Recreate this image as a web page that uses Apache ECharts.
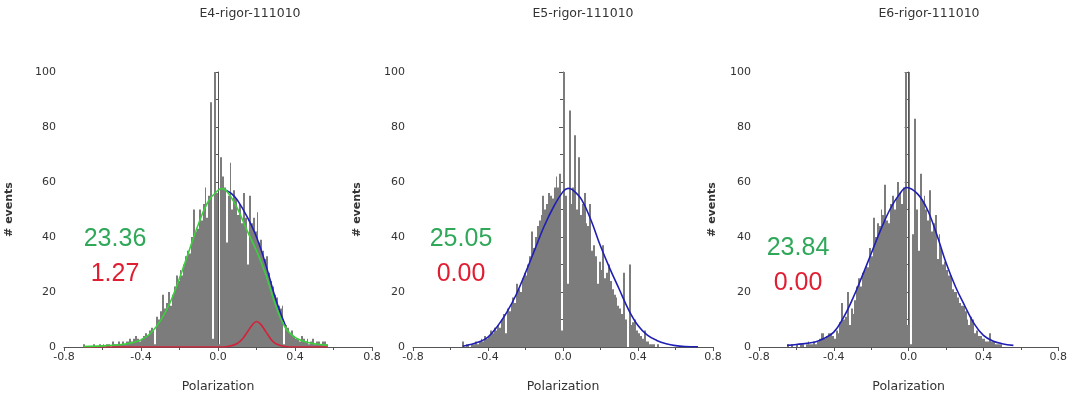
<!DOCTYPE html>
<html>
<head>
<meta charset="utf-8">
<script src="https://cdn.jsdelivr.net/npm/echarts@6/dist/echarts.min.js"></script>
<style>html,body{margin:0;padding:0;background:#fff;}#c{width:1070px;height:398px;}</style>
</head>
<body>
<div id="c"></div>
<script>
// ---------- data ----------
const titles = ['E4-rigor-111010', 'E5-rigor-111010', 'E6-rigor-111010'];
const xTicks = [-0.8, -0.4, 0.0, 0.4, 0.8];
const yTicks = [0, 20, 40, 60, 80, 100];
const binWidth = 0.01;

// histogram counts, first bin left edge given by *Start
const e4Start = -0.70;
const e4Counts = [1,0,0,0,0,1,0,0,1,0,1,0,1,1,0,2,1,1,2,1,2,1,2,2,3,2,3,4,3,2,3,4,5,4,6,7,6,1,11,10,13,19,14,16,20,15,19,22,26,24,28,26,30,33,35,34,40,50,42,43,50,46,52,58,47,55,89,3,100,56,1,69,62,58,38,55,67,50,57,54,48,52,45,56,47,30,55,45,47,42,49,38,39,35,32,33,27,24,22,19,18,15,14,15,1,8,7,5,6,4,3,3,2,4,3,2,3,1,2,3,1,2,2,1,2,2,1];

const e5Start = -0.54;
const e5Counts = [2,0,1,1,0,1,1,2,1,2,3,2,4,3,4,6,5,7,6,8,7,10,12,5,14,13,16,18,16,23,21,20,25,27,26,30,33,42,36,40,44,46,48,55,50,52,56,55,54,58,62,58,63,6,100,55,23,86,52,58,77,50,69,48,52,56,45,44,52,35,37,33,23,31,28,37,25,27,30,24,21,19,18,15,14,12,27,10,0,30,8,9,10,6,5,4,3,6,2,2,1,1,1,0,1];

const e6Start = -0.65;
const e6Counts = [1,0,1,0,0,1,0,1,1,0,1,2,1,1,2,1,2,3,5,5,3,4,5,5,4,3,6,5,9,16,10,11,20,8,14,12,17,22,25,22,27,28,30,29,36,33,47,40,45,44,50,48,59,46,45,52,55,50,54,60,56,52,58,100,8,100,1,41,83,50,35,63,53,55,50,46,57,42,45,48,32,41,36,30,31,28,26,26,21,20,20,18,16,15,15,13,10,8,11,10,5,6,4,4,3,3,2,2,5,2,2,1,1,1,1];

// fitted curves, points [x, y]
const e4Green = [[-0.70,0.2],[-0.6,0.4],[-0.5,0.9],[-0.45,1.5],[-0.4,2.6],[-0.35,5],[-0.3,9.5],[-0.25,16],[-0.2,25],[-0.15,35],[-0.1,45],[-0.05,53],[0,57],[0.02,57.6],[0.05,56.3],[0.1,50.5],[0.15,42.5],[0.2,35],[0.25,26],[0.3,15],[0.35,7],[0.4,3.5],[0.45,2],[0.5,1.2],[0.57,0.6]];
const e4Blue = [[0.04,57],[0.07,55.8],[0.1,53.5],[0.15,47.5],[0.2,40],[0.25,29.5],[0.3,17.4],[0.35,7.8]];
const e4Red = [[-0.70,0],[-0.3,0],[0,0],[0.05,0.2],[0.1,1.3],[0.13,3.2],[0.15,5.2],[0.18,8.2],[0.2,9.3],[0.22,8.4],[0.25,5.4],[0.28,2.4],[0.3,1.2],[0.35,0.2],[0.4,0],[0.57,0]];
const e5Blue = [[-0.535,0.3],[-0.5,0.8],[-0.45,1.8],[-0.4,3.6],[-0.35,7.5],[-0.3,12.6],[-0.25,19],[-0.2,27],[-0.15,35.5],[-0.1,44],[-0.05,51],[0,56.5],[0.027,57.7],[0.05,57.2],[0.1,53.5],[0.15,46],[0.2,36.7],[0.25,28.5],[0.3,21],[0.35,13.5],[0.4,7.8],[0.45,4.3],[0.5,2.4],[0.55,1.2],[0.6,0.5],[0.65,0.2],[0.72,0.1]];
const e6Blue = [[-0.65,0.6],[-0.6,0.9],[-0.5,1.8],[-0.45,3.2],[-0.4,5.4],[-0.35,10.5],[-0.3,17.4],[-0.25,25.5],[-0.2,34],[-0.15,42.5],[-0.1,50],[-0.05,55.5],[-0.01,58],[0.05,55.5],[0.1,50],[0.15,41],[0.2,30.6],[0.25,22],[0.3,15],[0.35,8.5],[0.4,4.2],[0.45,2.2],[0.5,1.2],[0.56,0.6]];

// annotation values
const topValues = ['23.36', '25.05', '23.84'];
const bottomValues = ['1.27', '0.00', '0.00'];

// ---------- layout / style ----------
const grids = [
  {left: 64, top: 72, width: 308, height: 276},
  {left: 413, top: 72, width: 300, height: 276},
  {left: 759, top: 72, width: 305, height: 276}
];
const yNameGaps = [49, 50, 41];
const titleX = [250, 583, 929];
const annot = [
  {x: 115, y1: 239, y2: 274},
  {x: 461, y1: 239, y2: 274},
  {x: 798, y1: 248, y2: 283}
];
const FONT = 'DejaVu Sans';
const axisColor = '#555';

function histData(start, counts) {
  return counts.map((c, i) => [Math.round((start + i * binWidth) * 1000) / 1000, c]);
}
function renderBin(params, api) {
  const x0 = api.value(0), y = api.value(1);
  const p0 = api.coord([x0, 0]);
  const p1 = api.coord([x0 + binWidth, y]);
  const left = Math.round(p0[0]), right = Math.round(p1[0]);
  return {
    type: 'rect',
    shape: {x: left, y: p1[1], width: Math.max(right - left, 1), height: p0[1] - p1[1]},
    style: {fill: '#7c7c7c'}
  };
}

const xAxes = grids.map((g, i) => ({
  gridIndex: i, type: 'value', min: xTicks[0], max: xTicks[xTicks.length - 1], interval: 0.4,
  name: 'Polarization', nameLocation: 'middle', nameGap: 33,
  nameTextStyle: {fontFamily: FONT, fontSize: 12.5, color: '#333'},
  axisLine: {show: true, onZero: false, lineStyle: {color: axisColor, width: 1}},
  axisTick: {show: true, length: 4, lineStyle: {color: axisColor}},
  minorTick: {show: true, splitNumber: 2, length: 3, lineStyle: {color: axisColor}},
  splitLine: {show: false},
  axisLabel: {fontFamily: FONT, fontSize: 11, color: '#333', margin: 5,
    formatter: v => v.toFixed(1), showMinLabel: true, showMaxLabel: true}
}));
const yAxes = grids.map((g, i) => ({
  gridIndex: i, type: 'value', min: yTicks[0], max: yTicks[yTicks.length - 1], interval: 20,
  name: '# events', nameLocation: 'middle', nameGap: yNameGaps[i],
  nameTextStyle: {fontFamily: FONT, fontSize: 11, fontWeight: 'bold', color: '#333'},
  axisLine: {show: true, lineStyle: {color: axisColor, width: 1}},
  axisTick: {show: true, length: 4, lineStyle: {color: axisColor}},
  minorTick: {show: true, splitNumber: 2, length: 3, lineStyle: {color: axisColor}},
  splitLine: {show: false},
  axisLabel: {fontFamily: FONT, fontSize: 11, color: '#333', margin: 8}
}));

const lineBase = (i, data, color) => ({
  type: 'line', xAxisIndex: i, yAxisIndex: i, data: data, smooth: 0.4,
  showSymbol: false, symbol: 'none', silent: true,
  lineStyle: {color: color, width: 1.6}, z: 5
});
const BLUE = '#1f1fb4', GREEN = '#3ccf3c', RED = '#d2233a';

const series = [
  {type: 'custom', xAxisIndex: 0, yAxisIndex: 0, data: histData(e4Start, e4Counts), renderItem: renderBin, encode: {x: 0, y: 1}, silent: true},
  {type: 'custom', xAxisIndex: 1, yAxisIndex: 1, data: histData(e5Start, e5Counts), renderItem: renderBin, encode: {x: 0, y: 1}, silent: true},
  {type: 'custom', xAxisIndex: 2, yAxisIndex: 2, data: histData(e6Start, e6Counts), renderItem: renderBin, encode: {x: 0, y: 1}, silent: true},
  lineBase(0, e4Red, RED),
  lineBase(0, e4Blue, BLUE),
  lineBase(0, e4Green, GREEN),
  lineBase(1, e5Blue, BLUE),
  lineBase(2, e6Blue, BLUE)
];

const graphics = [];
titles.forEach((t, i) => graphics.push({
  type: 'text', x: titleX[i], y: 14, silent: true,
  style: {text: t, fill: '#333', font: '12.5px "' + FONT + '"', align: 'center', verticalAlign: 'middle'}
}));
annot.forEach((a, i) => {
  graphics.push({type: 'text', x: a.x, y: a.y1, silent: true,
    style: {text: topValues[i], fill: '#2fa85a', font: '25px "Liberation Sans"', align: 'center', verticalAlign: 'middle'}});
  graphics.push({type: 'text', x: a.x, y: a.y2, silent: true,
    style: {text: bottomValues[i], fill: '#e01e32', font: '25px "Liberation Sans"', align: 'center', verticalAlign: 'middle'}});
});

const chart = echarts.init(document.getElementById('c'), null, {renderer: 'canvas'});
chart.setOption({
  animation: false,
  backgroundColor: '#fff',
  grid: grids,
  xAxis: xAxes,
  yAxis: yAxes,
  series: series,
  graphic: graphics
});
</script>
</body>
</html>
